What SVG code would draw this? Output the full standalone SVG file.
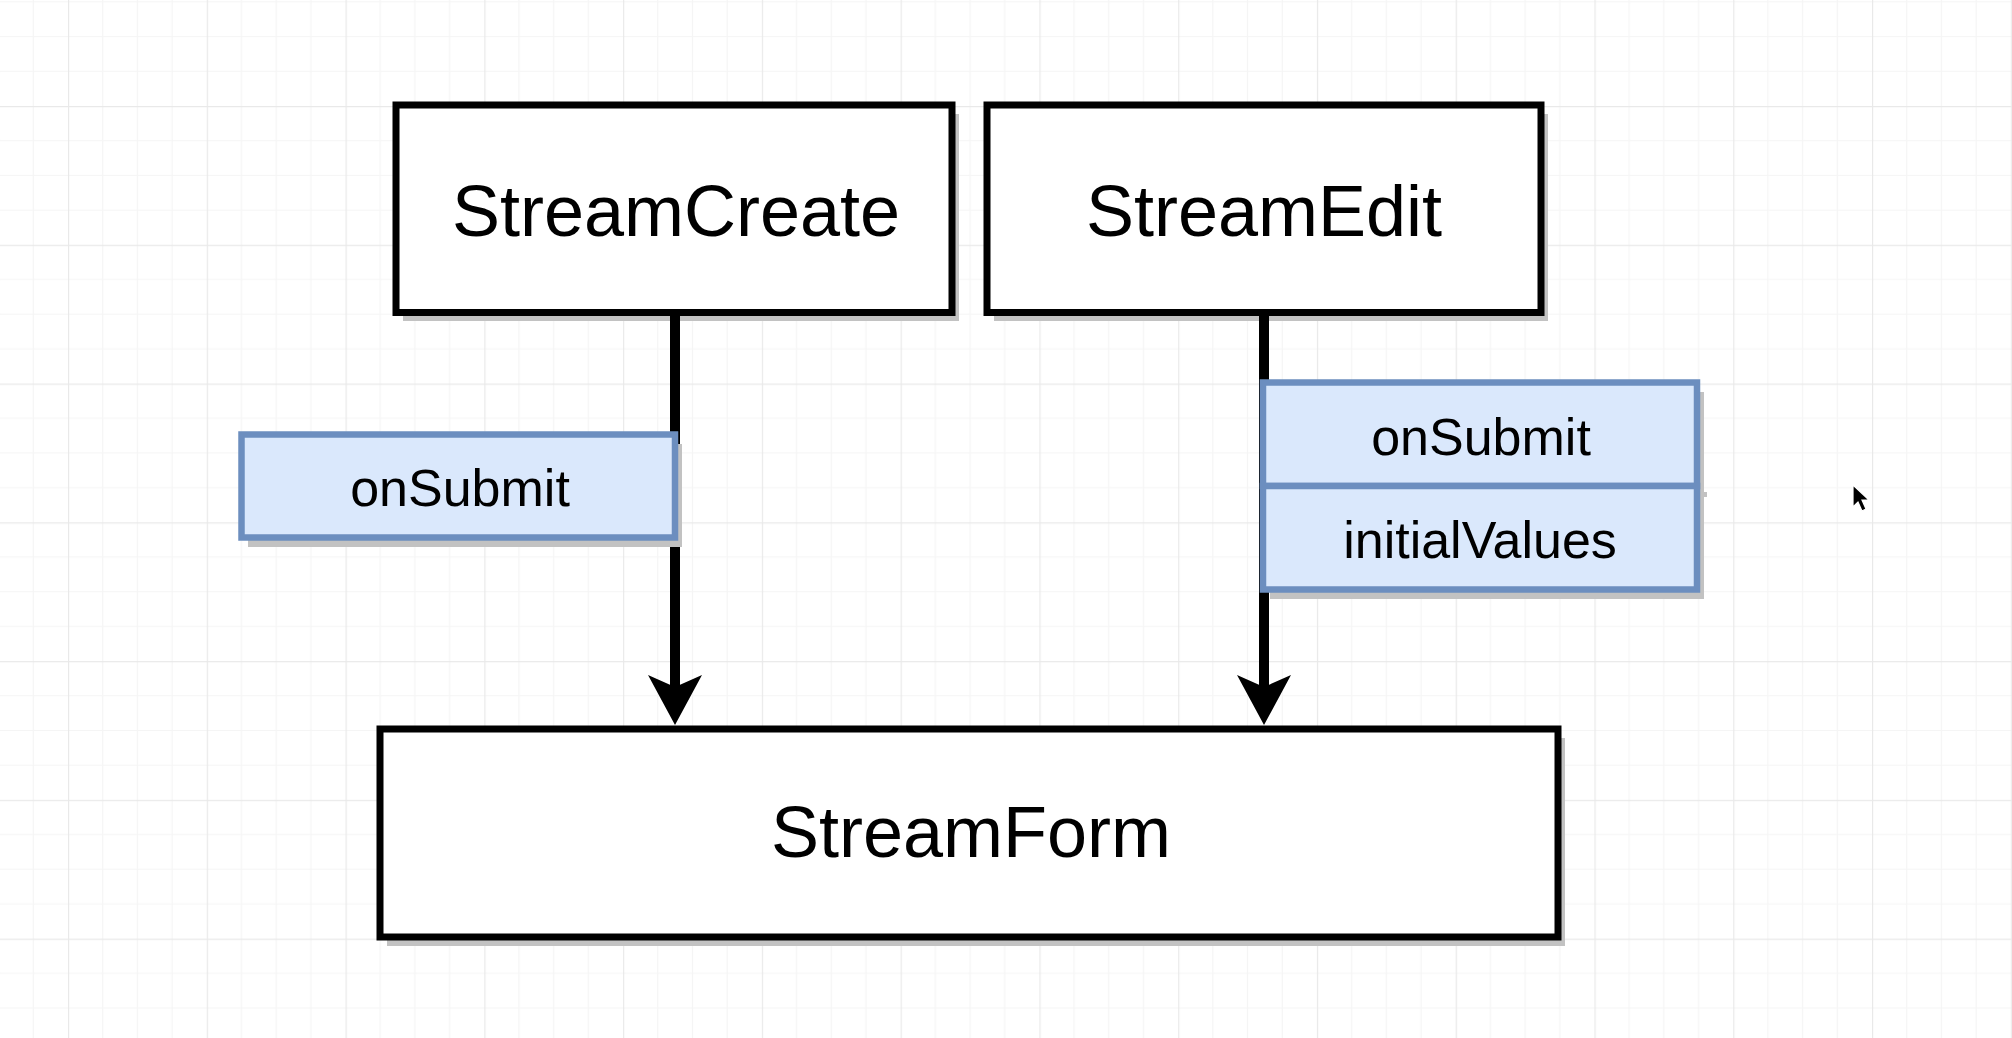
<svg xmlns="http://www.w3.org/2000/svg" width="2012" height="1038" viewBox="0 0 2012 1038">
  <style>
    .box { fill: #ffffff; stroke: #000000; stroke-width: 7; }
    .prop { fill: #dae8fc; stroke: #6c8ebf; stroke-width: 6.5; }
    .shadow { fill: #c2c2c2; }
    .big { font-family: "Liberation Sans", Arial, Helvetica, sans-serif; font-size: 72px; fill: #000000; text-anchor: middle; }
    .small { font-family: "Liberation Sans", Arial, Helvetica, sans-serif; font-size: 52px; fill: #000000; text-anchor: middle; }
    .edge { stroke: #000000; stroke-width: 10; fill: none; }
    .minor { stroke: #f5f5f5; stroke-width: 1.2; }
    .major { stroke: #e9e9e9; stroke-width: 1.4; }
  </style>
  <defs>
    <pattern id="grid" patternUnits="userSpaceOnUse" x="68" y="106" width="138.77" height="138.77">
      <line class="minor" x1="34.69" y1="0" x2="34.69" y2="138.77"/>
      <line class="minor" x1="69.38" y1="0" x2="69.38" y2="138.77"/>
      <line class="minor" x1="104.08" y1="0" x2="104.08" y2="138.77"/>
      <line class="minor" x1="0" y1="34.69" x2="138.77" y2="34.69"/>
      <line class="minor" x1="0" y1="69.38" x2="138.77" y2="69.38"/>
      <line class="minor" x1="0" y1="104.08" x2="138.77" y2="104.08"/>
      <line class="major" x1="0.5" y1="0" x2="0.5" y2="138.77"/>
      <line class="major" x1="0" y1="0.5" x2="138.77" y2="0.5"/>
    </pattern>
  </defs>

  <rect x="0" y="0" width="2012" height="1038" fill="#ffffff"/>
  <rect x="0" y="0" width="2012" height="1038" fill="url(#grid)"/>

  <g id="StreamCreate">
    <rect class="shadow" x="403" y="114" width="556" height="207"/>
    <rect class="box" x="396" y="105" width="556" height="207.5"/>
    <text class="big" x="676" y="236">StreamCreate</text>
  </g>

  <g id="StreamEdit">
    <rect class="shadow" x="994" y="114" width="554" height="207"/>
    <rect class="box" x="987" y="105" width="554" height="207.5"/>
    <text class="big" x="1264" y="236">StreamEdit</text>
  </g>

  <g id="StreamForm">
    <rect class="shadow" x="387" y="738" width="1178" height="208"/>
    <rect class="box" x="380" y="729" width="1178" height="208"/>
    <text class="big" x="971" y="857">StreamForm</text>
  </g>

  <g id="connectors">
    <line class="edge" x1="675" y1="313" x2="675" y2="688"/>
    <path d="M675,725 L648,675 L675,687 L702,675 Z" fill="#000000"/>
    <line class="edge" x1="1264" y1="313" x2="1264" y2="688"/>
    <path d="M1264,725 L1237,675 L1264,687 L1291,675 Z" fill="#000000"/>
  </g>

  <g id="onSubmitCreate">
    <rect class="shadow" x="248" y="444" width="434" height="103"/>
    <rect class="prop" x="241.5" y="434.5" width="433.5" height="103"/>
    <text class="small" x="460" y="506">onSubmit</text>
  </g>

  <g id="editProps">
    <rect class="shadow" x="1270" y="392" width="434" height="207"/>
    <rect class="shadow" x="1697" y="492" width="10" height="5"/>
    <rect class="prop" x="1263" y="382.5" width="434" height="103.5"/>
    <text class="small" x="1481" y="455">onSubmit</text>
    <rect class="prop" x="1263" y="486" width="434" height="103.5"/>
    <text class="small" x="1480" y="558">initialValues</text>
  </g>

  <g id="cursor">
    <path d="M1853,485 L1853,507 L1858,502 L1862,511 L1866,509 L1862,500 L1869,500 Z" fill="#000000" stroke="#ffffff" stroke-width="1.2"/>
  </g>
</svg>
